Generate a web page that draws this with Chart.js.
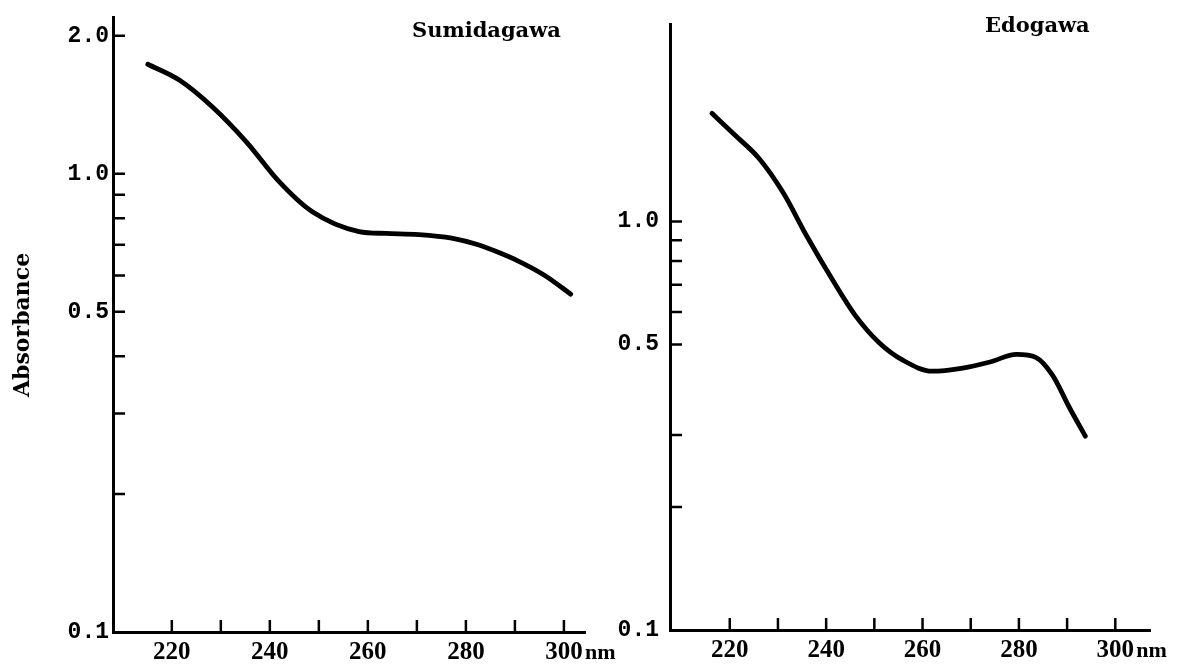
<!DOCTYPE html>
<html>
<head>
<meta charset="utf-8">
<title>Absorbance spectra</title>
<script src="https://cdn.jsdelivr.net/npm/chart.js@4.4.1/dist/chart.umd.min.js"></script>
<style>
  html, body { margin: 0; padding: 0; background: #fff; }
  #wrap { position: relative; width: 1189px; height: 667px; overflow: hidden; }
  .panel { position: absolute; top: 0; height: 667px; }
  #panel-sumida { left: 0; width: 640px; }
  #panel-edo { left: 600px; width: 589px; }
</style>
</head>
<body>
<div id="wrap">
  <div class="panel" id="panel-sumida"><canvas id="chart-sumida"></canvas></div>
  <div class="panel" id="panel-edo"><canvas id="chart-edo"></canvas></div>
</div>
<script>
// Спектры поглощения речной воды (логарифмическая шкала)

// Sumidagawa
const sumidaWavelength = [215.1, 221.6, 228.3, 235.2, 241.9, 248.6, 258.2, 263.7, 270.4, 277.1, 282.5, 286.6, 290.7, 296.1, 301.4];
const sumidaAbsorbance = [1.734, 1.60, 1.399, 1.174, 0.961, 0.827, 0.748, 0.741, 0.737, 0.724, 0.700, 0.674, 0.645, 0.600, 0.546];

// Edogawa
const edoWavelength = [216.3, 221, 226, 231, 236, 241, 246, 251, 256, 262, 268, 274, 279.5, 283.5, 287, 290.5, 293.8];
const edoAbsorbance = [1.84, 1.63, 1.43, 1.18, 0.92, 0.73, 0.59, 0.505, 0.457, 0.43, 0.437, 0.453, 0.473, 0.465, 0.42, 0.35, 0.298];

// подписи осей
const xLabelValues = [220, 240, 260, 280, 300];
const xMinorTicks = [220, 230, 240, 250, 260, 270, 280, 290, 300];
const sumidaYLabelValues = [0.1, 0.5, 1.0, 2.0];
const sumidaYLabels = ['0.1', '0.5', '1.0', '2.0'];
const sumidaYMinorTicks = [0.2, 0.3, 0.4, 0.5, 0.6, 0.7, 0.8, 0.9, 1.0, 2.0];
const edoYLabelValues = [0.1, 0.5, 1.0];
const edoYLabels = ['0.1', '0.5', '1.0'];
const edoYMinorTicks = [0.2, 0.3, 0.5, 0.6, 0.7, 0.8, 0.9, 1.0];

const SERIF_BOLD = "'DejaVu Serif', serif";
const TICK_FONT = "'Liberation Serif', serif";
const MONO_FONT = "'Liberation Mono', monospace";

// засечки внутрь поля, единица "nm" и название реки
const axisDecor = {
    id: 'axisDecor',
    afterDraw(chart, args, opts) {
        const { ctx, chartArea } = chart;
        const xs = chart.scales.x;
        const ys = chart.scales.y;
        ctx.save();
        ctx.strokeStyle = '#000';
        ctx.lineWidth = 2.5;
        ctx.beginPath();
        opts.xTicks.forEach(v => {
            const px = xs.getPixelForValue(v);
            ctx.moveTo(px, chartArea.bottom);
            ctx.lineTo(px, chartArea.bottom - opts.tickLen);
        });
        opts.yTicks.forEach(v => {
            const py = ys.getPixelForValue(v);
            ctx.moveTo(chartArea.left, py);
            ctx.lineTo(chartArea.left + opts.tickLen, py);
        });
        ctx.stroke();

        ctx.fillStyle = '#000';
        ctx.font = 'bold 22px ' + TICK_FONT;
        ctx.textAlign = 'left';
        ctx.textBaseline = 'middle';
        ctx.fillText('nm', xs.getPixelForValue(300) + 21, xs.top + 6 + 15);

        ctx.font = 'bold 21px ' + SERIF_BOLD;
        ctx.textBaseline = 'alphabetic';
        ctx.fillText(opts.name, opts.nameX, opts.nameY);
        ctx.restore();
    }
};

function makePanel(canvasId, cfg) {
    const points = cfg.wavelength.map((w, i) => ({ x: w, y: cfg.absorbance[i] }));
    return new Chart(document.getElementById(canvasId), {
        type: 'line',
        data: {
            datasets: [{
                data: points,
                borderColor: '#000',
                borderWidth: 4.8,
                pointRadius: 0,
                cubicInterpolationMode: 'monotone',
                borderCapStyle: 'round',
                fill: false
            }]
        },
        options: {
            responsive: true,
            maintainAspectRatio: false,
            animation: false,
            layout: { autoPadding: false, padding: cfg.padding },
            plugins: {
                legend: { display: false },
                tooltip: { enabled: false },
                axisDecor: {
                    xTicks: xMinorTicks,
                    yTicks: cfg.yMinor,
                    tickLen: 12,
                    name: cfg.name,
                    nameX: cfg.nameX,
                    nameY: cfg.nameY
                }
            },
            scales: {
                x: {
                    type: 'linear',
                    min: cfg.xMin,
                    max: cfg.xMax,
                    afterFit(scale) { scale.height = cfg.xAxisHeight; },
                    afterBuildTicks(scale) { scale.ticks = xLabelValues.map(v => ({ value: v })); },
                    grid: { display: true, drawOnChartArea: false, drawTicks: false },
                    border: { display: true, color: '#000', width: 3 },
                    ticks: {
                        color: '#000',
                        padding: 6,
                        autoSkip: false,
                        maxRotation: 0,
                        font: { family: TICK_FONT, size: 25, weight: 'bold' },
                        callback: v => String(v)
                    }
                },
                y: {
                    type: 'logarithmic',
                    min: 0.1,
                    max: cfg.yMax,
                    afterFit(scale) { scale.width = cfg.yAxisWidth; },
                    afterBuildTicks(scale) { scale.ticks = cfg.yLabelValues.map(v => ({ value: v })); },
                    grid: { display: true, drawOnChartArea: false, drawTicks: false },
                    border: { display: true, color: '#000', width: 3 },
                    title: cfg.yTitle,
                    ticks: {
                        color: '#000',
                        padding: cfg.yLabelPad,
                        autoSkip: false,
                        font: { family: MONO_FONT, size: 23, weight: 'bold' },
                        callback: (v, i) => cfg.yLabels[i]
                    }
                }
            }
        },
        plugins: [axisDecor]
    });
}

makePanel('chart-sumida', {
    wavelength: sumidaWavelength,
    absorbance: sumidaAbsorbance,
    name: 'Sumidagawa',
    nameX: 412, nameY: 37,
    padding: { left: 0, right: 55, top: 15, bottom: 0 },
    xMin: 208, xMax: 304.3,
    yMax: 2.19,
    xAxisHeight: 35,
    yAxisWidth: 113,
    yLabelPad: 4,
    yLabelValues: sumidaYLabelValues,
    yLabels: sumidaYLabels,
    yMinor: sumidaYMinorTicks,
    yTitle: {
        display: true,
        text: 'Absorbance',
        color: '#000',
        padding: { top: 10, bottom: 0 },
        font: { family: SERIF_BOLD, size: 22, weight: 'bold' }
    }
});

makePanel('chart-edo', {
    wavelength: edoWavelength,
    absorbance: edoAbsorbance,
    name: 'Edogawa',
    nameX: 385, nameY: 32,
    padding: { left: 0, right: 39, top: 15, bottom: 0 },
    xMin: 207.6, xMax: 307.2,
    yMax: 3.03,
    xAxisHeight: 37,
    yAxisWidth: 70,
    yLabelPad: 11,
    yLabelValues: edoYLabelValues,
    yLabels: edoYLabels,
    yMinor: edoYMinorTicks,
    yTitle: { display: false }
});
</script>
</body>
</html>
